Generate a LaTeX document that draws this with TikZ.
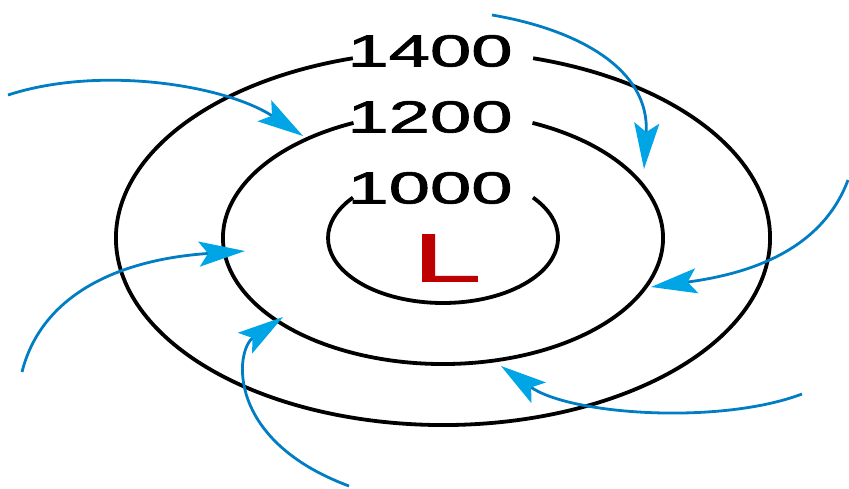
\documentclass[tikz,border=0pt]{standalone}
\usepackage{fontspec}
\setmainfont{Liberation Sans}
\newfontfamily\levelfont{Liberation Sans}[FakeBold=1.3]
\usetikzlibrary{arrows.meta,positioning}
\definecolor{windblue}{RGB}{0,125,195}
\definecolor{headblue}{RGB}{0,165,230}
\definecolor{lowred}{RGB}{190,0,0}
\tikzset{
  isobar/.style={line width=3.8pt},
  wind/.style={windblue, line width=2.8pt, -{Stealth[length=46pt,width=25pt,inset=9pt,color=headblue]}},
  level/.style={inner sep=0pt, font=\levelfont\fontsize{45}{45}\selectfont},
}

\begin{document}
\begin{tikzpicture}[x=1pt, y=1pt]
  \useasboundingbox (0,0) rectangle (849,-488);
  \coordinate (c) at (443,-238);
  \draw[isobar] (c) ++(74:327pt and 187pt) arc[start angle=74, end angle=-254, x radius=327pt, y radius=187pt];
  \draw[isobar] (c) ++(66:220pt and 126pt) arc[start angle=66, end angle=-246, x radius=220pt, y radius=126pt];
  \draw[isobar] (c) ++(38.5:115pt and 65pt) arc[start angle=38.5, end angle=-218.5, x radius=115pt, y radius=65pt];
  \node[level] (p1400) at (430,-51) {\scalebox{1.65}[1]{1400}};
  \node[level] (p1200) at (430,-117) {\scalebox{1.65}[1]{1200}};
  \node[level] (p1000) at (430,-188) {\scalebox{1.65}[1]{1000}};
  \node[inner sep=0pt, text=lowred, font=\levelfont\fontsize{68}{68}\selectfont] (low) at (447,-258) {\scalebox{1.8}[1]{L}};
  \coordinate (w1) at (8,-95);    \coordinate (t1) at (303,-136);
  \coordinate (w2) at (492,-15);  \coordinate (t2) at (644,-169);
  \coordinate (w3) at (848,-180); \coordinate (t3) at (651,-287);
  \coordinate (w4) at (802,-394); \coordinate (t4) at (501,-366);
  \coordinate (w5) at (22,-372);  \coordinate (t5) at (245,-251);
  \coordinate (w6) at (349,-486); \coordinate (t6) at (283,-317);
  \draw[wind] (w1) .. controls (100,-65) and (225,-85) .. (t1);
  \draw[wind] (w2) .. controls (580,-30) and (650,-70) .. (t2);
  \draw[wind] (w3) .. controls (820,-255) and (740,-275) .. (t3);
  \draw[wind] (w4) .. controls (720,-425) and (570,-415) .. (t4);
  \draw[wind] (w5) .. controls (40,-300) and (110,-260) .. (t5);
  \draw[wind] (w6) .. controls (225,-440) and (235,-350) .. (t6);
\end{tikzpicture}
\end{document}
